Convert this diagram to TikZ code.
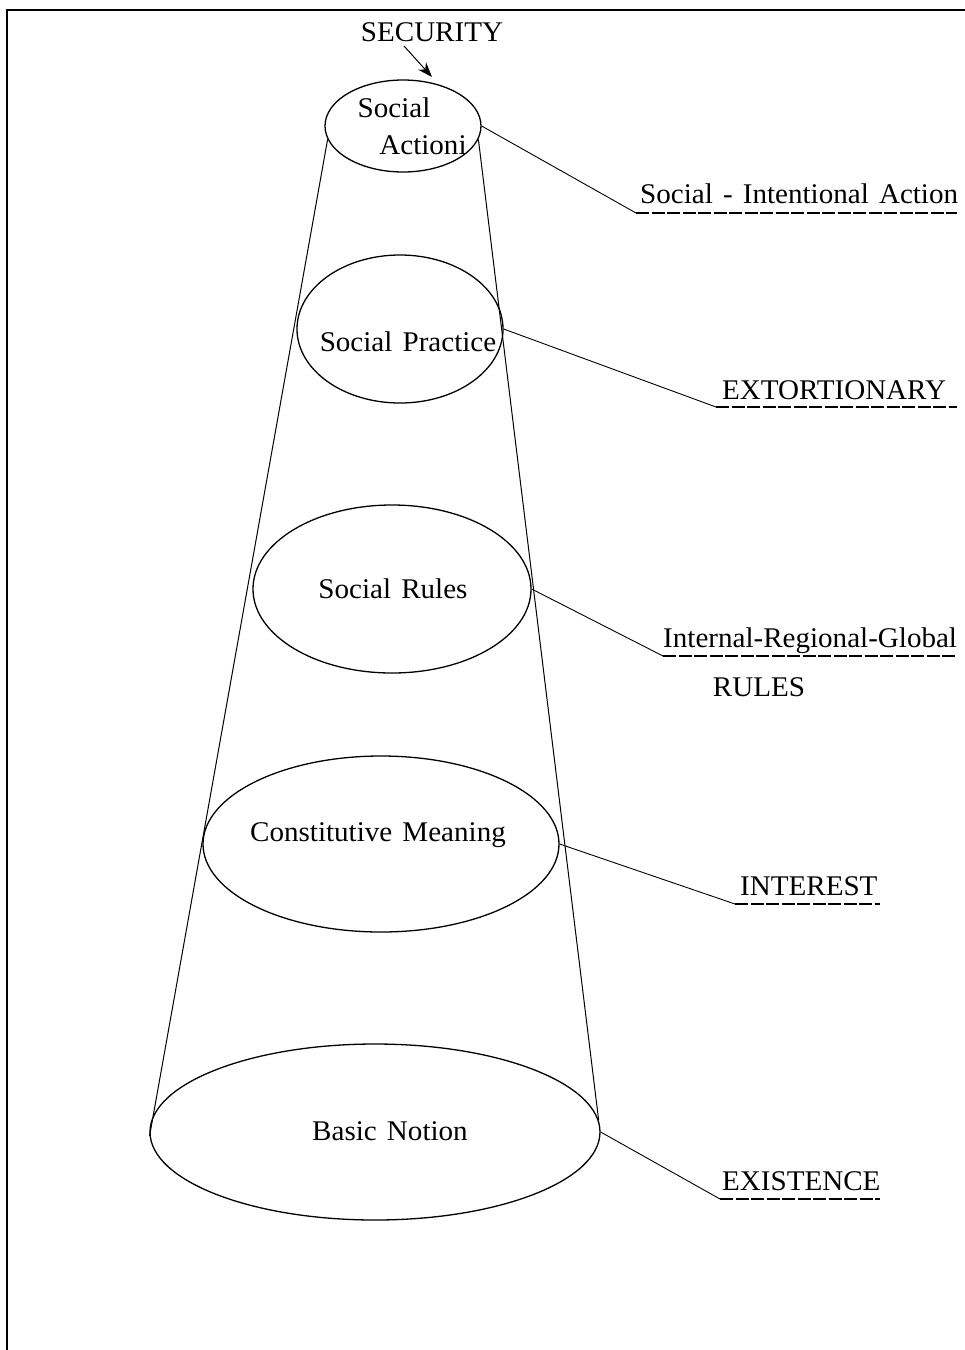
\documentclass[tikz,border=0pt]{standalone}
\usepackage{fontspec}
\setmainfont{Liberation Serif}[FakeStretch=1.02,WordSpace=1.4]
\usetikzlibrary{shapes.geometric,arrows.meta,calc}
\begin{document}
\begin{tikzpicture}[x=1pt,y=-1pt,
  oval/.style={draw,ellipse,line width=1.3pt,inner sep=0pt},
  txt/.style={font=\fontsize{28.5}{33}\selectfont,inner sep=0pt},
  cone/.style={line width=1pt},
  lead/.style={line width=0.9pt},
  uline/.style={line width=1.9pt,dash pattern=on 13pt off 2.5pt},
  frame/.style={line width=1.3pt}]
\useasboundingbox (0,0) rectangle (965,1350);
% frame
\draw[frame] (7,1350) -- (7,10) -- (965,10);
% ellipses
\node[oval,minimum width=156pt,minimum height=92pt] (a) at (403,126) {};
\node[oval,minimum width=206pt,minimum height=148pt] (b) at (400,329) {};
\node[oval,minimum width=278pt,minimum height=168pt] (c) at (392,589) {};
\node[oval,minimum width=356pt,minimum height=176pt] (d) at (381,844) {};
\node[oval,minimum width=450pt,minimum height=176pt] (e) at (375,1132) {};
% ellipse texts
\node[txt] (a1) at (394,108) {Social};
\node[txt] (a2) at (423,145) {Actioni};
\node[txt] (bt) at (408,342) {Social Practice};
\node[txt] (ct) at (393,589) {Social Rules};
\node[txt] (dt) at (378,835) {Constitutive Meaning};
\node[txt] (et) at (390,1131) {Basic Notion};
% cone sides
\draw[cone] (a.190) -- (e.181);
\draw[cone] (a.350) -- (e.3);
% security arrow
\node[txt] (sec) at (432,32) {SECURITY};
\coordinate (secfoot) at (404,46);
\coordinate (sectip) at (432,77);
\draw[line width=1pt,-{Stealth[length=15pt,width=11pt]}] (secfoot) -- (sectip);
% right-hand labels
\coordinate (k1) at (636,213); \coordinate (k1e) at (957,213);
\coordinate (k2) at (716,407); \coordinate (k2e) at (957,407);
\coordinate (k3) at (663,656); \coordinate (k3e) at (957,656);
\coordinate (k4) at (735,904); \coordinate (k4e) at (880,904);
\coordinate (k5) at (720,1199); \coordinate (k5e) at (880,1199);
\draw[lead] (a.east) -- (k1);
\draw[lead] (b.east) -- (k2);
\draw[lead] (c.east) -- (k3);
\draw[lead] (d.east) -- (k4);
\draw[lead] (e.east) -- (k5);
\draw[uline] (k1) -- (k1e);
\draw[uline] (k2) -- (k2e);
\draw[uline] (k3) -- (k3e);
\draw[uline] (k4) -- (k4e);
\draw[uline] (k5) -- (k5e);
\node[txt,anchor=base west] (l1) at (640,203) {Social - Intentional Action};
\node[txt,anchor=base west] (l2) at (722,399) {EXTORTIONARY};
\node[txt,anchor=base west] (l3) at (663,647) {Internal-Regional-Global};
\node[txt] (l3b) at (759,687) {RULES};
\node[txt,anchor=base west] (l4) at (740,895) {INTEREST};
\node[txt,anchor=base west] (l5) at (722,1190) {EXISTENCE};
\end{tikzpicture}
\end{document}
